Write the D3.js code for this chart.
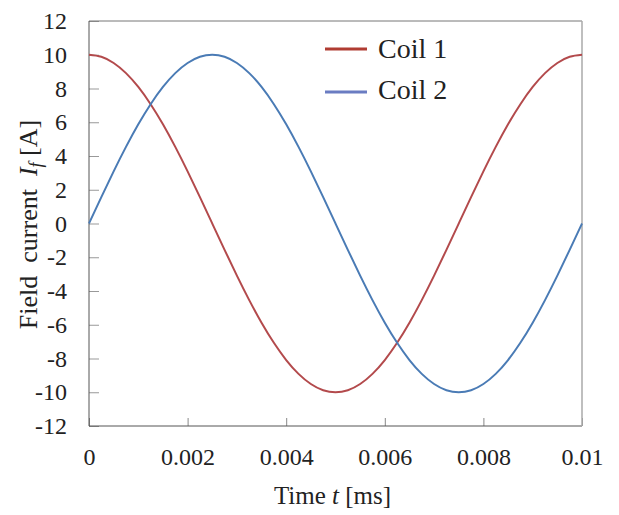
<!DOCTYPE html>
<html>
<head>
<meta charset="utf-8">
<script src="https://cdn.jsdelivr.net/npm/d3@7"></script>
<style>
  body { margin: 0; background: #fff; }
  text { font-family: "Liberation Serif", "Times New Roman", serif; fill: #222; }
</style>
</head>
<body>
<div id="chart"></div>
<script>
var times = [0, 0.00025, 0.0005, 0.00075, 0.001, 0.00125, 0.0015, 0.00175, 0.002, 0.00225,
    0.0025, 0.00275, 0.003, 0.00325, 0.0035, 0.00375, 0.004, 0.00425, 0.0045, 0.00475,
    0.005, 0.00525, 0.0055, 0.00575, 0.006, 0.00625, 0.0065, 0.00675, 0.007, 0.00725,
    0.0075, 0.00775, 0.008, 0.00825, 0.0085, 0.00875, 0.009, 0.00925, 0.0095, 0.00975, 0.01];
var coil1 = [10, 9.88, 9.51, 8.91, 8.09, 7.07, 5.88, 4.54, 3.09, 1.56,
    0, -1.56, -3.09, -4.54, -5.88, -7.07, -8.09, -8.91, -9.51, -9.88,
    -10, -9.88, -9.51, -8.91, -8.09, -7.07, -5.88, -4.54, -3.09, -1.56,
    0, 1.56, 3.09, 4.54, 5.88, 7.07, 8.09, 8.91, 9.51, 9.88, 10];
var coil2 = [0, 1.56, 3.09, 4.54, 5.88, 7.07, 8.09, 8.91, 9.51, 9.88,
    10, 9.88, 9.51, 8.91, 8.09, 7.07, 5.88, 4.54, 3.09, 1.56,
    0, -1.56, -3.09, -4.54, -5.88, -7.07, -8.09, -8.91, -9.51, -9.88,
    -10, -9.88, -9.51, -8.91, -8.09, -7.07, -5.88, -4.54, -3.09, -1.56, 0];
var xTicks = [0, 0.002, 0.004, 0.006, 0.008, 0.01];
var yTicks = [-12, -10, -8, -6, -4, -2, 0, 2, 4, 6, 8, 10, 12];
var seriesNames = ["Coil 1", "Coil 2"];

var margin = {top: 21, right: 37, bottom: 89, left: 89},
    width = 619 - margin.left - margin.right,
    height = 515 - margin.top - margin.bottom;

var lineColors = ["#b34a4c", "#4a7bb5"];
var legendColors = ["#b03c32", "#6a7cc2"];

var svg = d3.select("#chart")
    .append("svg")
    .attr("width", 619)
    .attr("height", 515)
    .append("g")
    .attr("transform", "translate(" + margin.left + "," + margin.top + ")");

var x = d3.scaleLinear().domain([0, 0.01]).range([0, width]);
var y = d3.scaleLinear().domain([-12, 12]).range([height, 0]);

// x axis, ticks pointing inward
var xAxis = svg.append("g")
    .attr("transform", "translate(0," + height + ")")
    .call(d3.axisBottom(x).tickValues(xTicks).tickSizeInner(-8).tickSizeOuter(0)
        .tickPadding(22).tickFormat(function (d) { return String(d); }));
xAxis.select(".domain").remove();
xAxis.selectAll("line").attr("stroke", "#888");
xAxis.selectAll("text").style("font-size", "24px").style("font-family", "Liberation Serif").attr("fill", "#222");

// y axis (plain hyphen for negatives, like the original)
var yAxis = svg.append("g")
    .call(d3.axisLeft(y).tickValues(yTicks).tickSizeInner(-10).tickSizeOuter(0).tickPadding(22)
        .tickFormat(function (d) { return String(d); }));
yAxis.select(".domain").remove();
yAxis.selectAll("line").attr("stroke", "#999");
yAxis.selectAll("text").style("font-size", "24px").style("font-family", "Liberation Serif").attr("fill", "#222");

// frame
svg.append("line").attr("x1", 0).attr("x2", width).attr("y1", 0).attr("y2", 0).attr("stroke", "#777");
svg.append("line").attr("x1", 0).attr("x2", 0).attr("y1", 0).attr("y2", height).attr("stroke", "#555");
svg.append("line").attr("x1", 0).attr("x2", width).attr("y1", height).attr("y2", height).attr("stroke", "#555");
svg.append("line").attr("x1", width).attr("x2", width).attr("y1", 0).attr("y2", height)
    .attr("stroke", "#aaa").attr("stroke-width", 1.5);

// curves
var line = d3.line()
    .x(function (d) { return x(d[0]); })
    .y(function (d) { return y(d[1]); })
    .curve(d3.curveNatural);

[coil1, coil2].forEach(function (vals, i) {
    svg.append("path")
        .datum(times.map(function (t, k) { return [t, vals[k]]; }))
        .attr("fill", "none")
        .attr("stroke", lineColors[i])
        .attr("stroke-width", 2)
        .attr("d", line);
});

// legend
var legend = svg.append("g").attr("transform", "translate(236,28)");
seriesNames.forEach(function (name, i) {
    legend.append("line")
        .attr("x1", 0).attr("x2", 42)
        .attr("y1", i * 43).attr("y2", i * 43)
        .attr("stroke", legendColors[i])
        .attr("stroke-width", 3);
    legend.append("text")
        .attr("x", 53).attr("y", i * 41 + 9)
        .style("font-size", "28px")
        .text(name);
});

// axis titles
var xt = svg.append("text")
    .attr("x", width / 2 - 3).attr("y", height + 78)
    .attr("text-anchor", "middle")
    .style("font-size", "25px");
xt.append("tspan").text("Time ");
xt.append("tspan").style("font-style", "italic").text("t");
xt.append("tspan").text(" [ms]");

var yt = svg.append("text")
    .attr("transform", "translate(-52," + (height / 2 + 1) + ")rotate(-90)")
    .attr("text-anchor", "middle")
    .style("font-size", "26px");
yt.append("tspan").text("Field\u00a0 current\u00a0 ");
yt.append("tspan").style("font-style", "italic").text("I");
yt.append("tspan").style("font-style", "italic").style("font-size", "18px").attr("dy", 5).text("f");
yt.append("tspan").attr("dy", -5).text(" [A]");
</script>
</body>
</html>
